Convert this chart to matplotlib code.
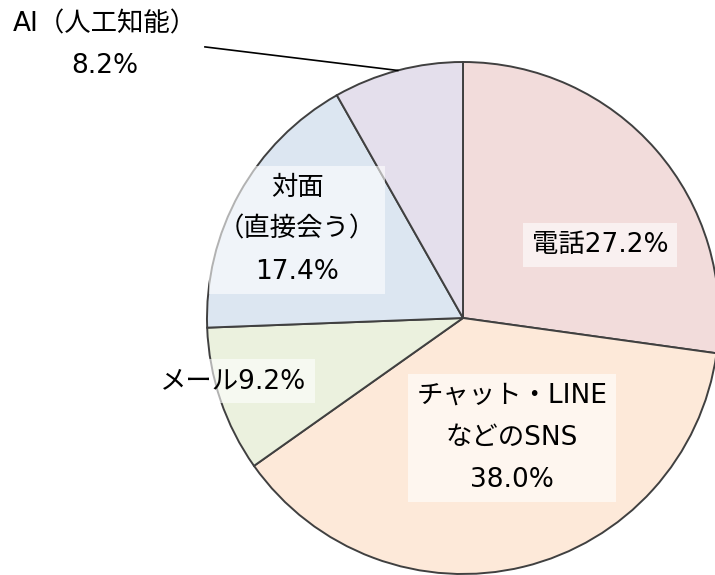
import matplotlib
matplotlib.use("Agg")
import matplotlib.pyplot as plt
import numpy as np

plt.rcParams['font.family'] = ['DejaVu Sans', 'Noto Sans CJK JP']

# Share of each contact method (%), clockwise from 12 o'clock
categories = ["電話", "チャット・LINE\nなどのSNS", "メール", "対面\n（直接会う）", "AI（人工知能）"]
shares = [27.2, 38.0, 9.2, 17.4, 8.2]
colors = ["#F2DCDB", "#FDE9D9", "#EBF1DE", "#DCE6F1", "#E4DFEC"]

fig = plt.figure(figsize=(7.15, 5.75), dpi=100)
ax = fig.add_axes([0, 0, 1, 1])

wedges, _ = ax.pie(shares, colors=colors, startangle=90, counterclock=False,
                   radius=1.0, center=(0, 0),
                   wedgeprops=dict(edgecolor="#404040", linewidth=1.4))

ax.set_aspect("equal")
ax.set_xlim(-463 / 256, (715 - 463) / 256)
ax.set_ylim((318 - 575) / 256, 318 / 256)
ax.axis("off")

box = dict(boxstyle="square,pad=0.33", facecolor="white", edgecolor="none", alpha=0.6)
fs = 19
ls = 1.8

def label_text(i):
    return f"{categories[i]}{shares[i]:.1f}%"

# In-slice labels
ax.text(0.535, 0.285, label_text(0), ha="center", va="center", fontsize=fs, bbox=box)
ax.text(0.191, -0.469, f"{categories[1]}\n{shares[1]:.1f}%", ha="center", va="center",
        fontsize=fs, linespacing=ls, bbox=dict(box, pad=0.4))
ax.text(-0.898, -0.246, label_text(2), ha="center", va="center", fontsize=fs, bbox=box)
ax.text(-0.648, 0.344, f"{categories[3]}\n{shares[3]:.1f}%", ha="center", va="center",
        fontsize=fs, linespacing=ls, bbox=dict(box, pad=0.4))

# Outside label with leader line for the small AI slice
w = wedges[4]
mid = np.deg2rad((w.theta1 + w.theta2) / 2)
edge = (np.cos(mid), np.sin(mid))
ax.plot([-1.008, edge[0]], [1.059, edge[1]], color="black", linewidth=1.2)
ax.text(-1.40, 1.065, f"{categories[4]}\n{shares[4]:.1f}%", ha="center", va="center",
        fontsize=fs, linespacing=ls)

fig.savefig("out.png", dpi=100)
